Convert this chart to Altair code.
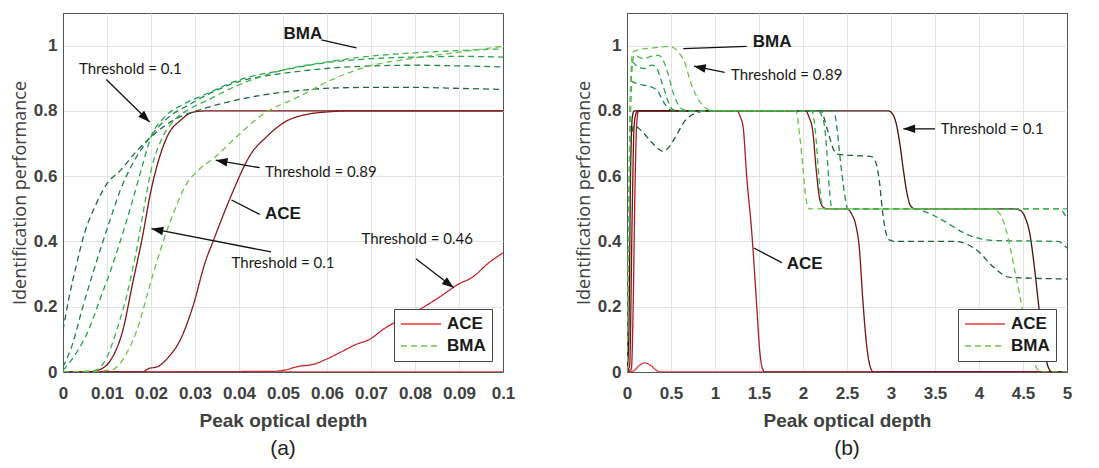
import math
import pandas as pd
import altair as alt

# ---------------- Panel (a) data ----------------
a_ace1_x = [0, 0.006, 0.0079, 0.0108, 0.0137, 0.0158, 0.018, 0.02, 0.0216, 0.024, 0.0266, 0.0295, 0.0324, 0.04, 0.1]
a_ace1_y = [0, 0, 0.005, 0.036, 0.133, 0.27, 0.41, 0.556, 0.643, 0.73, 0.77, 0.796, 0.8, 0.8, 0.8]
a_ace2_x = [0, 0.018, 0.0194, 0.0216, 0.024, 0.0266, 0.0295, 0.0324, 0.0341, 0.0379, 0.0428, 0.0462, 0.0504, 0.0553, 0.0602, 0.0652, 0.1]
a_ace2_y = [0, 0, 0.01, 0.017, 0.046, 0.097, 0.2, 0.34, 0.40, 0.53, 0.67, 0.72, 0.766, 0.789, 0.797, 0.8, 0.8]
a_ace3_x = [0, 0.048, 0.05, 0.0538, 0.0568, 0.0598, 0.063, 0.0667, 0.0697, 0.0727, 0.0765, 0.0795, 0.0833, 0.0856, 0.09, 0.093, 0.0968, 0.1]
a_ace3_y = [0, 0.002, 0.005, 0.018, 0.023, 0.039, 0.06, 0.085, 0.10, 0.13, 0.16, 0.18, 0.21, 0.23, 0.27, 0.29, 0.335, 0.365]
a_ace4_x = [0, 0.1]
a_ace4_y = [0, 0]

a_bma1_x = [0, 0.0014, 0.0029, 0.005, 0.0072, 0.01, 0.013, 0.0165, 0.02, 0.0237, 0.0273, 0.0317, 0.04, 0.046, 0.054, 0.061, 0.07, 0.08, 0.09, 0.1]
a_bma1_y = [0.128, 0.23, 0.32, 0.43, 0.505, 0.577, 0.617, 0.673, 0.72, 0.76, 0.786, 0.806, 0.835, 0.85, 0.863, 0.87, 0.872, 0.872, 0.869, 0.866]
a_bma2_x = [0, 0.0022, 0.0043, 0.0065, 0.0086, 0.0108, 0.013, 0.0158, 0.0187, 0.0216, 0.0245, 0.0288, 0.0324, 0.04, 0.05, 0.06, 0.07, 0.08, 0.09, 0.1]
a_bma2_y = [0.015, 0.087, 0.19, 0.29, 0.38, 0.47, 0.556, 0.638, 0.7, 0.75, 0.786, 0.82, 0.847, 0.89, 0.915, 0.93, 0.938, 0.94, 0.938, 0.935]
a_bma3_x = [0, 0.0029, 0.0058, 0.0086, 0.0108, 0.013, 0.0158, 0.018, 0.02, 0.023, 0.0273, 0.0317, 0.04, 0.05, 0.06, 0.07, 0.08, 0.09, 0.1]
a_bma3_y = [0.005, 0.056, 0.128, 0.23, 0.31, 0.4, 0.525, 0.63, 0.72, 0.78, 0.82, 0.847, 0.895, 0.925, 0.948, 0.96, 0.965, 0.967, 0.965]
a_bma4_x = [0, 0.0072, 0.01, 0.0122, 0.0144, 0.0165, 0.0187, 0.02, 0.0223, 0.0252, 0.0288, 0.0324, 0.04, 0.05, 0.06, 0.07, 0.08, 0.09, 0.1]
a_bma4_y = [0, 0.005, 0.046, 0.128, 0.23, 0.36, 0.525, 0.617, 0.71, 0.77, 0.806, 0.83, 0.88, 0.925, 0.95, 0.968, 0.978, 0.985, 0.99]
a_bma5_x = [0, 0.0108, 0.0144, 0.0173, 0.0194, 0.0223, 0.0252, 0.028, 0.0309, 0.0347, 0.0386, 0.0455, 0.0538, 0.061, 0.069, 0.08, 0.0917, 0.1]
a_bma5_y = [0, 0.005, 0.056, 0.148, 0.25, 0.38, 0.49, 0.575, 0.62, 0.66, 0.71, 0.79, 0.845, 0.895, 0.935, 0.962, 0.983, 0.998]

a_note_text = ["Threshold = 0.1", "Threshold = 0.89", "Threshold = 0.1", "Threshold = 0.46"]
a_note_x = [0.0153, 0.0586, 0.05, 0.0805]
a_note_y = [0.929, 0.613, 0.335, 0.406]
a_label_text = ["BMA", "ACE"]
a_label_x = [0.0545, 0.05]
a_label_y = [1.037, 0.483]
a_arrow_x1 = [0.00985, 0.0447, 0.0473, 0.0802]
a_arrow_y1 = [0.896, 0.626, 0.368, 0.347]
a_arrow_x2 = [0.0197, 0.0347, 0.0201, 0.0888]
a_arrow_y2 = [0.766, 0.649, 0.439, 0.258]
a_lead_x1 = [0.0587, 0.0447]
a_lead_y1 = [1.018, 0.483]
a_lead_x2 = [0.0667, 0.0383]
a_lead_y2 = [0.993, 0.527]

# ---------------- Panel (b) data ----------------
b_ace1_x = [0, 0.07, 0.14, 0.2, 0.26, 0.33, 0.38, 5]
b_ace1_y = [0, 0.003, 0.02, 0.028, 0.022, 0.006, 0, 0]
b_ace2_x = [0, 0.05, 0.07, 0.09, 0.11, 0.13, 1.25, 1.29, 1.32, 1.36, 1.42, 1.47, 1.51, 1.54, 1.57, 5]
b_ace2_y = [0, 0.01, 0.2, 0.55, 0.76, 0.8, 0.8, 0.78, 0.75, 0.6, 0.42, 0.22, 0.06, 0.01, 0, 0]
b_ace3_x = [0, 0.03, 0.06, 0.08, 0.1, 0.12, 2.03, 2.07, 2.11, 2.15, 2.19, 2.23, 2.28, 2.5, 2.55, 2.6, 2.64, 2.68, 2.72, 2.76, 2.8, 5]
b_ace3_y = [0, 0.02, 0.5, 0.75, 0.79, 0.8, 0.8, 0.78, 0.74, 0.62, 0.53, 0.505, 0.5, 0.5, 0.485, 0.45, 0.38, 0.22, 0.09, 0.02, 0, 0]
b_ace4_x = [0, 0.02, 0.04, 0.06, 0.08, 2.97, 3.02, 3.06, 3.1, 3.14, 3.18, 3.22, 3.27, 4.4, 4.47, 4.53, 4.58, 4.63, 4.68, 4.73, 4.78, 4.83, 5]
b_ace4_y = [0, 0.1, 0.6, 0.78, 0.8, 0.8, 0.79, 0.76, 0.7, 0.62, 0.55, 0.51, 0.5, 0.5, 0.495, 0.47, 0.42, 0.32, 0.2, 0.09, 0.02, 0, 0]

b_bma1_x = [0, 0.02, 0.04, 0.065, 0.19, 0.3, 0.48, 0.55, 0.6, 0.66, 0.72, 0.78, 0.85, 0.94, 1.0, 1.92, 1.96, 2.0, 2.03, 2.07, 2.12, 4.15, 4.22, 4.28, 4.34, 4.4, 4.46, 4.52, 4.58, 4.64, 4.7, 5]
b_bma1_y = [0, 0.5, 0.88, 0.98, 0.99, 0.993, 0.998, 0.99, 0.975, 0.945, 0.89, 0.85, 0.82, 0.802, 0.8, 0.8, 0.73, 0.625, 0.54, 0.5, 0.5, 0.5, 0.49, 0.46, 0.4, 0.32, 0.24, 0.15, 0.07, 0.02, 0, 0]
b_bma2_x = [0, 0.02, 0.04, 0.08, 0.19, 0.28, 0.36, 0.42, 0.47, 0.52, 0.58, 0.65, 0.72, 2.1, 2.14, 2.18, 2.21, 2.25, 2.3, 5]
b_bma2_y = [0, 0.45, 0.85, 0.97, 0.96, 0.968, 0.97, 0.95, 0.91, 0.86, 0.82, 0.803, 0.8, 0.8, 0.74, 0.6, 0.52, 0.5, 0.5, 0.5]
b_bma3_x = [0, 0.02, 0.04, 0.06, 0.12, 0.2, 0.28, 0.33, 0.38, 0.43, 0.48, 0.53, 0.6, 2.17, 2.24, 2.27, 2.3, 2.33, 2.38, 4.9, 4.96, 5]
b_bma3_y = [0, 0.42, 0.82, 0.95, 0.935, 0.93, 0.94, 0.935, 0.9, 0.86, 0.82, 0.803, 0.8, 0.8, 0.76, 0.68, 0.56, 0.5, 0.5, 0.5, 0.488, 0.47]
b_bma4_x = [0, 0.02, 0.05, 0.1, 0.17, 0.26, 0.35, 0.41, 0.48, 0.55, 2.35, 2.38, 2.42, 2.47, 2.51, 2.56, 3.26, 3.44, 3.62, 3.8, 3.99, 4.17, 4.9, 4.96, 5]
b_bma4_y = [0, 0.4, 0.89, 0.885, 0.88, 0.875, 0.86, 0.83, 0.805, 0.8, 0.8, 0.76, 0.66, 0.55, 0.5, 0.5, 0.5, 0.485, 0.46, 0.43, 0.41, 0.403, 0.4, 0.39, 0.38]
b_bma5_x = [0, 0.02, 0.04, 0.08, 0.16, 0.26, 0.33, 0.41, 0.48, 0.55, 0.66, 0.77, 0.92, 2.2, 2.28, 2.35, 2.4, 2.78, 2.83, 2.87, 2.9, 2.94, 2.98, 3.05, 3.73, 3.99, 4.17, 4.35, 4.53, 5]
b_bma5_y = [0, 0.35, 0.7, 0.755, 0.74, 0.71, 0.69, 0.676, 0.69, 0.72, 0.77, 0.792, 0.8, 0.8, 0.74, 0.68, 0.667, 0.66, 0.64, 0.58, 0.5, 0.43, 0.405, 0.4, 0.4, 0.37, 0.32, 0.29, 0.288, 0.285]

b_note_text = ["Threshold = 0.89", "Threshold = 0.1"]
b_note_x = [1.815, 4.15]
b_note_y = [0.909, 0.745]
b_label_text = ["BMA", "ACE"]
b_label_x = [1.65, 2.02]
b_label_y = [1.01, 0.33]
b_arrow_x1 = [1.11, 3.5]
b_arrow_y1 = [0.918, 0.745]
b_arrow_x2 = [0.76, 3.14]
b_arrow_y2 = [0.937, 0.745]
b_lead_x1 = [1.36, 1.76]
b_lead_y1 = [0.998, 0.335]
b_lead_x2 = [0.64, 1.44]
b_lead_y2 = [0.991, 0.38]

a_x_ticks = [0, 0.01, 0.02, 0.03, 0.04, 0.05, 0.06, 0.07, 0.08, 0.09, 0.1]
b_x_ticks = [0, 0.5, 1, 1.5, 2, 2.5, 3, 3.5, 4, 4.5, 5]
y_ticks = [0, 0.2, 0.4, 0.6, 0.8, 1]

# ---------------- styles ----------------
W, H = 440, 359
Y_DOM = [0, 1.1]
DASH = [6, 4]
SOLID = [1, 0]
HEAD = "M0,0L0.36,1L-0.36,1Z"
FRAME = "#555555"
GRID = "#e4e4e4"
LEG_X, LEG_Y = 331, 296


def build_panel(curves, xdom, xticks, notes, labels, arrows, leads, caption):
    names, colors, dashes, rows = [], [], [], []
    for name, xs, ys, col, dash in curves:
        names.append(name)
        colors.append(col)
        dashes.append(dash)
        for xv, yv in zip(xs, ys):
            rows.append({"x": xv, "y": yv, "curve": name})
    df = pd.DataFrame(rows)

    xs_ = alt.Scale(domain=xdom, nice=False, zero=False)
    ys_ = alt.Scale(domain=Y_DOM, nice=False)
    edge_test = f"datum.value <= {xdom[0]} || datum.value >= {xdom[1]}"
    xax = alt.Axis(values=xticks, format="~g", title="Peak optical depth",
                   gridColor={"condition": {"test": edge_test, "value": FRAME}, "value": GRID})
    yax = alt.Axis(values=y_ticks, format="~g", title="Identification performance")
    X = lambda f: alt.X(f, scale=xs_, axis=xax, title="Peak optical depth")
    Y = lambda f: alt.Y(f, scale=ys_, axis=yax, title="Identification performance")

    leg = alt.Legend(values=["ACE", "BMA"], title=None, orient="none", legendX=LEG_X, legendY=LEG_Y,
                     symbolType="stroke", symbolSize=1600, symbolStrokeWidth=1.6, clipHeight=18,
                     labelFont="Liberation Sans", labelFontWeight="bold", labelFontSize=17,
                     labelColor="#1a1a1a", labelOffset=5, padding=6, rowPadding=4,
                     strokeColor="#444444", fillColor="white", cornerRadius=0)

    lines = alt.Chart(df).mark_line(strokeWidth=1.3, interpolate="monotone", clip=True).encode(
        x=X("x:Q"), y=Y("y:Q"),
        color=alt.Color("curve:N", scale=alt.Scale(domain=names, range=colors), legend=leg),
        strokeDash=alt.StrokeDash("curve:N", scale=alt.Scale(domain=names, range=dashes), legend=leg),
    )

    nt, nx, ny = notes
    note_df = pd.DataFrame({"x": nx, "y": ny, "t": nt})
    note_layer = alt.Chart(note_df).mark_text(font="Lato", fontSize=15, color="#1a1a1a",
                                              align="center", baseline="middle").encode(
        x=X("x:Q"), y=Y("y:Q"), text="t:N")

    lt, lx, ly = labels
    lab_df = pd.DataFrame({"x": lx, "y": ly, "t": lt})
    lab_layer = alt.Chart(lab_df).mark_text(font="Liberation Sans", fontSize=17, fontWeight="bold",
                                            color="#1a1a1a", align="center", baseline="middle").encode(
        x=X("x:Q"), y=Y("y:Q"), text="t:N")

    ax1, ay1, ax2, ay2 = arrows
    lx1, ly1, lx2, ly2 = leads
    seg_df = pd.DataFrame({"x": ax1 + lx1, "y": ay1 + ly1, "x2": ax2 + lx2, "y2": ay2 + ly2})
    seg_layer = alt.Chart(seg_df).mark_rule(color="#111111", strokeWidth=1.3).encode(
        x=X("x:Q"), y=Y("y:Q"), x2="x2:Q", y2="y2:Q")

    angles = []
    for x1, y1, x2, y2 in zip(ax1, ay1, ax2, ay2):
        dx = (x2 - x1) / (xdom[1] - xdom[0]) * W
        dy = -(y2 - y1) / (Y_DOM[1] - Y_DOM[0]) * H
        angles.append(math.degrees(math.atan2(dx, -dy)) % 360)
    head_df = pd.DataFrame({"x": ax2, "y": ay2, "a": angles})
    head_layer = alt.Chart(head_df).mark_point(shape=HEAD, filled=True, size=560, color="#111111",
                                               opacity=1, strokeWidth=0).encode(
        x=X("x:Q"), y=Y("y:Q"), angle=alt.Angle("a:Q", scale=None))

    return alt.layer(lines, seg_layer, head_layer, note_layer, lab_layer).properties(
        width=W, height=H,
        title=alt.TitleParams(caption, orient="bottom", anchor="middle", offset=8,
                              font="Liberation Sans", fontSize=21, fontWeight="normal", color="#222222"))


RED_BRIGHT = "#e8383d"
GREEN_LIGHT = "#6cc24a"

left = build_panel(
    [
        ("ACE", a_ace4_x, a_ace4_y, RED_BRIGHT, SOLID),
        ("ACE 3", a_ace3_x, a_ace3_y, "#c9282d", SOLID),
        ("ACE 2", a_ace2_x, a_ace2_y, "#8b1a1a", SOLID),
        ("ACE 1", a_ace1_x, a_ace1_y, "#7a1616", SOLID),
        ("BMA 1", a_bma1_x, a_bma1_y, "#1f6b40", DASH),
        ("BMA 2", a_bma2_x, a_bma2_y, "#1e8848", DASH),
        ("BMA 3", a_bma3_x, a_bma3_y, "#22a650", DASH),
        ("BMA 4", a_bma4_x, a_bma4_y, "#3fb54c", DASH),
        ("BMA", a_bma5_x, a_bma5_y, GREEN_LIGHT, DASH),
    ],
    [0, 0.1], a_x_ticks,
    (a_note_text, a_note_x, a_note_y),
    (a_label_text, a_label_x, a_label_y),
    (a_arrow_x1, a_arrow_y1, a_arrow_x2, a_arrow_y2),
    (a_lead_x1, a_lead_y1, a_lead_x2, a_lead_y2),
    "(a)",
)

right = build_panel(
    [
        ("ACE", b_ace1_x, b_ace1_y, RED_BRIGHT, SOLID),
        ("ACE 2", b_ace2_x, b_ace2_y, "#a81e22", SOLID),
        ("ACE 3", b_ace3_x, b_ace3_y, "#7a1414", SOLID),
        ("ACE 4", b_ace4_x, b_ace4_y, "#4d0f0f", SOLID),
        ("BMA 5", b_bma5_x, b_bma5_y, "#1f5f3a", DASH),
        ("BMA 4", b_bma4_x, b_bma4_y, "#1e8c4a", DASH),
        ("BMA 3", b_bma3_x, b_bma3_y, "#25a050", DASH),
        ("BMA 2", b_bma2_x, b_bma2_y, "#3fb54c", DASH),
        ("BMA", b_bma1_x, b_bma1_y, GREEN_LIGHT, DASH),
    ],
    [0, 5], b_x_ticks,
    (b_note_text, b_note_x, b_note_y),
    (b_label_text, b_label_x, b_label_y),
    (b_arrow_x1, b_arrow_y1, b_arrow_x2, b_arrow_y2),
    (b_lead_x1, b_lead_y1, b_lead_x2, b_lead_y2),
    "(b)",
)

chart = alt.hconcat(left, right, spacing=58).resolve_scale(
    color="independent", strokeDash="independent", x="independent"
).resolve_legend(color="independent", strokeDash="independent").properties(
    padding={"left": 2, "top": 4, "right": 0, "bottom": 0}
).configure_view(
    stroke=FRAME, strokeWidth=1
).configure_axis(
    grid=True, gridColor=GRID, gridWidth=1, domain=True, domainColor=FRAME, domainWidth=1,
    ticks=False,
    labelFont="Liberation Sans", labelFontWeight="bold", labelFontSize=17, labelColor="#404040",
    titleColor="#404040",
).configure_axisX(
    labelPadding=13, labelFlush=False, titleFont="Liberation Sans", titleFontWeight="bold",
    titleFontSize=19, titlePadding=10,
).configure_axisY(
    labelPadding=6, titleFont="Open Sans", titleFontWeight="normal", titleFontSize=18, titlePadding=4,
)

chart.save("out.html", embed_options={"renderer": "svg", "actions": False})
